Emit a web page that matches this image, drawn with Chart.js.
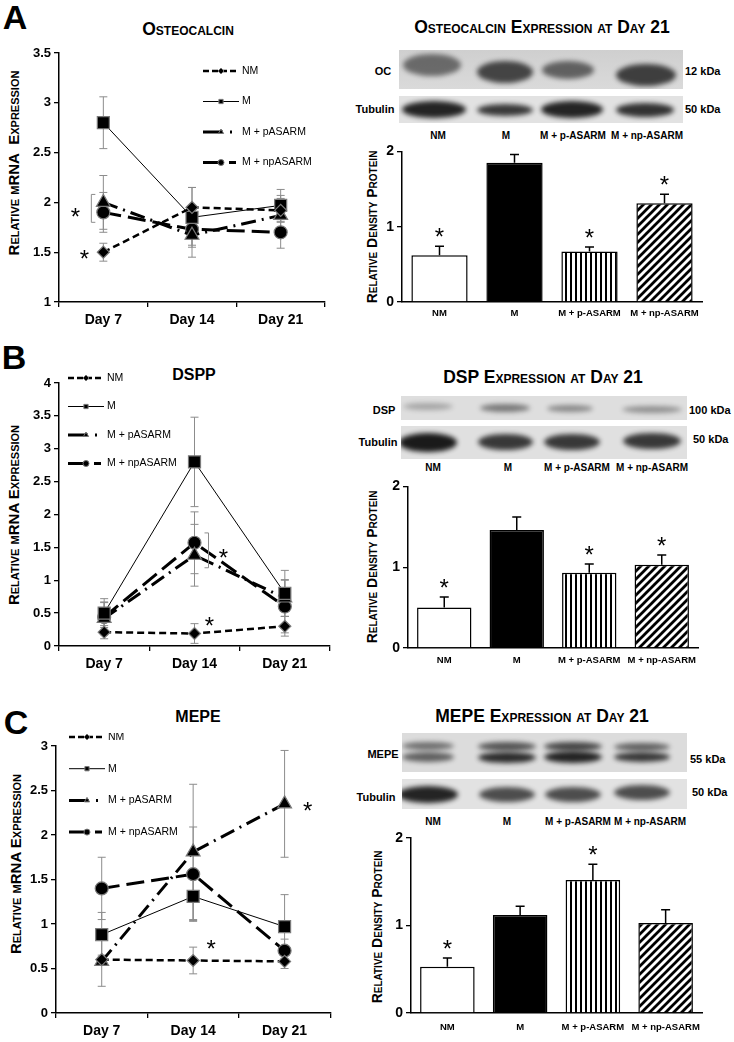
<!DOCTYPE html>
<html>
<head>
<meta charset="utf-8">
<title>Osteocalcin, DSPP and MEPE expression</title>
<script src="https://cdn.jsdelivr.net/npm/chart.js@4.4.1/dist/chart.umd.min.js"></script>
<style>
  html, body { margin: 0; padding: 0; background: #fff; }
  body { position: relative; width: 734px; height: 1042px; overflow: hidden;
         font-family: "Liberation Sans", Arial, sans-serif; color: #000; }
  canvas { position: absolute; }
  .t { position: absolute; white-space: nowrap; font-weight: bold; transform: translate(-50%, -50%); }
  .letter { font-size: 34px; }
  .title { font-size: 17.5px; font-variant: small-caps; }
  .ytitle { font-size: 15px; font-variant: small-caps; transform: translate(-50%, -50%) rotate(-90deg); }
  .ytitle.prot { font-size: 14px; }
  .lab { font-size: 11px; }
  .lane { font-size: 10px; }
  .kda { font-size: 11px; transform: translate(0, -50%); }
  .blot { position: absolute; overflow: hidden; background: #d6d6d6; }
  .band { position: absolute; background: #141414; border-radius: 50%; filter: blur(2.5px); }
</style>
</head>
<body>

<!-- panel letters + titles -->
<div class="t letter" style="left:15px;top:17px">A</div>
<div class="t letter" style="left:14px;top:357px">B</div>
<div class="t letter" style="left:16px;top:722px">C</div>

<div class="t title" style="left:188px;top:29px">Osteocalcin</div>
<div class="t title" style="left:542px;top:27px">Osteocalcin Expression at Day 21</div>
<div class="t title" style="left:194px;top:375px;font-size:16px">DSPP</div>
<div class="t title" style="left:543px;top:377px">DSP Expression at Day 21</div>
<div class="t title" style="left:198px;top:717px;font-size:16px">MEPE</div>
<div class="t title" style="left:542px;top:716px">MEPE Expression at Day 21</div>

<div class="t ytitle" style="left:13px;top:163px">Relative mRNA&nbsp; Expression</div>
<div class="t ytitle" style="left:13px;top:515px">Relative mRNA Expression</div>
<div class="t ytitle" style="left:15px;top:864px">Relative mRNA Expression</div>
<div class="t ytitle prot" style="left:372px;top:227px">Relative Density Protein</div>
<div class="t ytitle prot" style="left:372px;top:567px">Relative Density Protein</div>
<div class="t ytitle prot" style="left:377px;top:927px">Relative Density Protein</div>

<!-- blot labels -->
<div class="t lab" style="left:383px;top:71px">OC</div>
<div class="t lab" style="left:375px;top:109px">Tubulin</div>
<div class="t kda" style="left:685px;top:71px">12 kDa</div>
<div class="t kda" style="left:685px;top:109px">50 kDa</div>
<div class="t lane" style="left:438px;top:135px">NM</div>
<div class="t lane" style="left:506px;top:135px">M</div>
<div class="t lane" style="left:573px;top:135px">M + p-ASARM</div>
<div class="t lane" style="left:647px;top:135px">M + np-ASARM</div>

<div class="t lab" style="left:384px;top:410px">DSP</div>
<div class="t lab" style="left:378px;top:442px">Tubulin</div>
<div class="t kda" style="left:689px;top:410px">100 kDa</div>
<div class="t kda" style="left:693px;top:439px">50 kDa</div>
<div class="t lane" style="left:433px;top:467px">NM</div>
<div class="t lane" style="left:508px;top:467px">M</div>
<div class="t lane" style="left:577px;top:467px">M + p-ASARM</div>
<div class="t lane" style="left:652px;top:467px">M + np-ASARM</div>

<div class="t lab" style="left:383px;top:754px">MEPE</div>
<div class="t lab" style="left:376px;top:797px">Tubulin</div>
<div class="t kda" style="left:690px;top:759px">55 kDa</div>
<div class="t kda" style="left:692px;top:792px">50 kDa</div>
<div class="t lane" style="left:433px;top:821px">NM</div>
<div class="t lane" style="left:507px;top:821px">M</div>
<div class="t lane" style="left:578px;top:821px">M + p-ASARM</div>
<div class="t lane" style="left:650px;top:821px">M + np-ASARM</div>

<canvas id="ocLine"></canvas>
<canvas id="ocBar"></canvas>
<canvas id="dsLine"></canvas>
<canvas id="dsBar"></canvas>
<canvas id="meLine"></canvas>
<canvas id="meBar"></canvas>

<script>
"use strict";

// ── Data ──────────────────────────────────────────────────────────────────
const days   = ["Day 7", "Day 14", "Day 21"];
const series = ["NM", "M", "M + pASARM", "M + npASARM"];
const groups = ["NM", "M", "M + p-ASARM", "M + np-ASARM"];

// A – Osteocalcin mRNA
const ocNM    = [1.50, 1.95, 1.92];
const ocM     = [2.80, 1.85, 1.97];
const ocP     = [2.00, 1.67, 1.87];
const ocNP    = [1.90, 1.73, 1.70];
const ocNMErr = [0.09, 0.20, 0.12];
const ocMErr  = [0.26, 0.30, 0.16];
const ocPErr  = [0.27, 0.22, 0.20];
const ocNPErr = [0.20, 0.16, 0.16];
const ocTicks = [1, 1.5, 2, 2.5, 3, 3.5];

// A – Osteocalcin protein, day 21
const ocProt    = [0.62, 1.85, 0.67, 1.31];
const ocProtErr = [0.12, 0.11, 0.06, 0.12];
const ocProtSig = [true, false, true, true];

// B – DSPP mRNA
const dsNM    = [0.21, 0.19, 0.30];
const dsM     = [0.50, 2.80, 0.80];
const dsP     = [0.42, 1.38, 0.73];
const dsNP    = [0.44, 1.57, 0.60];
const dsNMErr = [0.10, 0.15, 0.15];
const dsMErr  = [0.22, 0.68, 0.35];
const dsPErr  = [0.25, 0.47, 0.28];
const dsNPErr = [0.22, 0.47, 0.40];
const dsTicks = [0, 0.5, 1, 1.5, 2, 2.5, 3, 3.5, 4];

// B – DSP protein, day 21
const dsProt    = [0.50, 1.46, 0.93, 1.03];
const dsProtErr = [0.13, 0.16, 0.11, 0.12];
const dsProtSig = [true, false, true, true];

// C – MEPE mRNA
const meNM    = [0.60, 0.59, 0.58];
const meM     = [0.88, 1.31, 0.97];
const meP     = [0.58, 1.81, 2.35];
const meNP    = [1.40, 1.56, 0.70];
const meNMErr = [0.05, 0.15, 0.08];
const meMErr  = [0.25, 0.27, 0.36];
const mePErr  = [0.28, 0.76, 0.60];
const meNPErr = [0.35, 0.53, 0.13];
const meTicks = [0, 0.5, 1, 1.5, 2, 2.5, 3];

// C – MEPE protein, day 21
const meProt    = [0.53, 1.12, 1.52, 1.03];
const meProtErr = [0.10, 0.10, 0.18, 0.15];
const meProtSig = [true, false, true, false];

const protTicks = [0, 1, 2];

// ── Look ──────────────────────────────────────────────────────────────────
const FONT = '"Liberation Sans", Arial, sans-serif';
Chart.defaults.font.family = FONT;
Chart.defaults.color = "#000";

const lineStyles = [
  { borderWidth: 2.5, borderDash: [7, 4],         keyDash: [6, 3],         pointStyle: "rectRot",  pointRadius: 6 },
  { borderWidth: 1,   borderDash: [],             keyDash: [],             pointStyle: "rect",     pointRadius: 8.5 },
  { borderWidth: 3,   borderDash: [15, 6, 2, 6],  keyDash: [20, 7, 2, 7],  pointStyle: "triangle", pointRadius: 8 },
  { borderWidth: 3,   borderDash: [18, 7],        keyDash: [20, 6, 7, 3],  pointStyle: "circle",   pointRadius: 6.5 },
];

function tile(w, h, paint) {
  const c = document.createElement("canvas");
  c.width = w; c.height = h;
  const g = c.getContext("2d");
  g.fillStyle = "#fff"; g.fillRect(0, 0, w, h);
  paint(g);
  return g.createPattern(c, "repeat");
}
const vStripes = tile(5, 5, g => { g.fillStyle = "#000"; g.fillRect(0, 0, 2, 5); });
const dStripes = tile(8, 8, g => {
  g.strokeStyle = "#000"; g.lineWidth = 2.8;
  g.beginPath();
  g.moveTo(-1, 9); g.lineTo(9, -1);
  g.moveTo(-5, 5); g.lineTo(5, -5);
  g.moveTo(3, 13); g.lineTo(13, 3);
  g.stroke();
});
const barFills = ["#fff", "#000", vStripes, dStripes];

function drawMarker(ctx, style, x, y, r) {
  ctx.beginPath();
  if (style === "circle") ctx.arc(x, y, r, 0, Math.PI * 2);
  else if (style === "rect") ctx.rect(x - r * 0.707, y - r * 0.707, r * 1.414, r * 1.414);
  else if (style === "rectRot") { ctx.moveTo(x - r, y); ctx.lineTo(x, y - r); ctx.lineTo(x + r, y); ctx.lineTo(x, y + r); ctx.closePath(); }
  else { ctx.moveTo(x, y - r); ctx.lineTo(x + r * 0.866, y + r / 2); ctx.lineTo(x - r * 0.866, y + r / 2); ctx.closePath(); }
  ctx.fillStyle = "#000"; ctx.fill();
  ctx.strokeStyle = "#777"; ctx.lineWidth = 1; ctx.stroke();
}

// ── Plugins ───────────────────────────────────────────────────────────────
function drawErrors(chart, opts) {
  const ctx = chart.ctx, ys = chart.scales.y;
  ctx.save();
  ctx.strokeStyle = opts.color; ctx.lineWidth = opts.width;
  chart.data.datasets.forEach((ds, d) => {
    if (!ds.errors) return;
    chart.getDatasetMeta(d).data.forEach((el, i) => {
      const v = ds.data[i], e = ds.errors[i];
      const top = ys.getPixelForValue(v + e);
      const bot = opts.upOnly ? el.y : ys.getPixelForValue(v - e);
      ctx.beginPath();
      ctx.moveTo(el.x, top); ctx.lineTo(el.x, bot);
      ctx.moveTo(el.x - opts.cap, top); ctx.lineTo(el.x + opts.cap, top);
      if (!opts.upOnly) { ctx.moveTo(el.x - opts.cap, bot); ctx.lineTo(el.x + opts.cap, bot); }
      ctx.stroke();
    });
  });
  ctx.restore();
}
const errorBars = {
  id: "errorBars",
  beforeDatasetsDraw(chart, args, opts) { if (opts.under) drawErrors(chart, opts); },
  afterDatasetsDraw(chart, args, opts) { if (!opts.under) drawErrors(chart, opts); },
};

const lineKey = {
  id: "lineKey",
  afterDraw(chart, args, opts) {
    if (opts.x === undefined) return;
    const ctx = chart.ctx, len = 36;
    ctx.save();
    chart.data.datasets.forEach((ds, i) => {
      const x = opts.x, y = opts.y + i * opts.step;
      ctx.strokeStyle = "#000"; ctx.lineWidth = ds.borderWidth;
      ctx.setLineDash(ds.keyDash);
      ctx.beginPath(); ctx.moveTo(x, y); ctx.lineTo(x + len, y); ctx.stroke();
      ctx.setLineDash([]);
      drawMarker(ctx, ds.pointStyle, x + 18, y, 3);
      ctx.fillStyle = "#000";
      ctx.font = "10.5px " + FONT;
      ctx.textBaseline = "middle";
      ctx.fillText(ds.label, x + len + 3, y);
    });
    ctx.restore();
  },
};

// asterisks and brackets
const marks = {
  id: "marks",
  afterDatasetsDraw(chart, args, opts) {
    const ctx = chart.ctx, xs = chart.scales.x, ys = chart.scales.y;
    ctx.save();
    ctx.fillStyle = "#000";
    ctx.font = "24px " + FONT;
    ctx.textAlign = "center"; ctx.textBaseline = "alphabetic";
    const star = (x, y) => ctx.fillText("*", x, y + 14);
    chart.data.datasets.forEach((ds, d) => {
      if (!ds.sig) return;
      chart.getDatasetMeta(d).data.forEach((el, i) => {
        if (ds.sig[i]) star(el.x, ys.getPixelForValue(ds.data[i] + ds.errors[i]) - 15);
      });
    });
    (opts.stars || []).forEach(s => star(xs.getPixelForValue(s.i) + s.dx, ys.getPixelForValue(s.v)));
    ctx.strokeStyle = "#8c8c8c"; ctx.lineWidth = 1;
    (opts.brackets || []).forEach(b => {
      const x = xs.getPixelForValue(b.i) + b.dx;
      const y1 = ys.getPixelForValue(b.v1), y2 = ys.getPixelForValue(b.v2);
      ctx.beginPath();
      ctx.moveTo(x + b.dir * 4, y1); ctx.lineTo(x, y1); ctx.lineTo(x, y2); ctx.lineTo(x + b.dir * 4, y2);
      ctx.stroke();
    });
    ctx.restore();
  },
};

// ── Chart builders ────────────────────────────────────────────────────────
function place(cv, box) {
  cv.width = box.w; cv.height = box.h;
  cv.style.left = box.x + "px"; cv.style.top = box.y + "px";
}

function axisY(ticks, box, area, size) {
  return {
    min: ticks[0], max: ticks[ticks.length - 1],
    afterBuildTicks: s => { s.ticks = ticks.map(v => ({ value: v })); },
    grid: { drawOnChartArea: false, tickLength: 5, color: "#000", lineWidth: 1.3 },
    border: { color: "#000", width: 1.5 },
    ticks: { font: { size: size, weight: "bold" }, padding: 3, color: "#000", callback: v => String(+v.toFixed(2)) },
    afterFit: s => { s.width = area.l - box.x; },
  };
}

function lineChart(id, box, area, sets, errs, ticks, key, notes) {
  const cv = document.getElementById(id);
  place(cv, box);
  new Chart(cv, {
    type: "line",
    data: {
      labels: days,
      datasets: series.map((name, i) => Object.assign({
        label: name, data: sets[i], errors: errs[i],
        borderColor: "#000", pointBackgroundColor: "#000",
        pointBorderColor: "#7a7a7a", pointBorderWidth: 1.2,
        fill: false, tension: 0, clip: false,
      }, lineStyles[i])),
    },
    options: {
      responsive: false, animation: false, events: [],
      layout: { padding: { top: area.t - box.y, right: box.x + box.w - area.r, left: 0, bottom: 0 } },
      plugins: {
        legend: { display: false }, tooltip: { enabled: false },
        errorBars: { under: true, color: "#8c8c8c", width: 1, cap: 4 },
        lineKey: { x: key.x - box.x, y: key.y - box.y, step: key.step },
        marks: notes,
      },
      scales: {
        x: {
          offset: true,
          grid: { offset: true, drawOnChartArea: false, tickLength: 5, color: "#000", lineWidth: 1.3 },
          border: { color: "#000", width: 1.5 },
          ticks: { font: { size: 14, weight: "bold" }, padding: 5, color: "#000" },
          afterFit: s => { s.height = box.y + box.h - area.b; },
        },
        y: axisY(ticks, box, area, 13),
      },
    },
    plugins: [errorBars, lineKey, marks],
  });
}

function barChart(id, box, area, values, errs, sig, labelPad) {
  const cv = document.getElementById(id);
  place(cv, box);
  new Chart(cv, {
    type: "bar",
    data: {
      labels: groups,
      datasets: [{
        data: values, errors: errs, sig: sig,
        backgroundColor: barFills, borderColor: "#000", borderWidth: 1.5,
        barPercentage: 0.75, categoryPercentage: 1,
      }],
    },
    options: {
      responsive: false, animation: false, events: [],
      layout: { padding: { top: area.t - box.y, right: box.x + box.w - area.r, left: 0, bottom: 0 } },
      plugins: {
        legend: { display: false }, tooltip: { enabled: false },
        errorBars: { under: false, upOnly: true, color: "#000", width: 1.5, cap: 4.5 },
        marks: {},
      },
      scales: {
        x: {
          grid: { drawOnChartArea: false, drawTicks: false },
          border: { color: "#000", width: 1.5 },
          ticks: { font: { size: 9.5, weight: "bold" }, padding: labelPad, color: "#000", maxRotation: 0, autoSkip: false },
          afterFit: s => { s.height = box.y + box.h - area.b; },
        },
        y: axisY(protTicks, box, area, 14),
      },
    },
    plugins: [errorBars, marks],
  });
}

// ── Western blot strips (picture, not data) ──────────────────────────────
function blot(rect, bg, bands) {
  const el = document.createElement("div");
  el.className = "blot";
  Object.assign(el.style, { left: rect[0] + "px", top: rect[1] + "px", width: rect[2] + "px", height: rect[3] + "px", background: bg });
  bands.forEach(b => {
    const d = document.createElement("div");
    d.className = "band";
    Object.assign(d.style, {
      left: (b[0] - b[1] / 2 - rect[0]) + "px", width: b[1] + "px",
      top: (b[2] - b[3] / 2) + "px", height: b[3] + "px", opacity: b[4],
    });
    el.appendChild(d);
  });
  document.body.appendChild(el);
}

blot([399, 50, 284, 39], "linear-gradient(#cfcfcf,#dadada)", [
  [432, 58, 15, 22, 0.55], [505, 56, 22, 22, 0.75], [568, 52, 20, 18, 0.6], [646, 60, 25, 22, 0.78]]);
blot([399, 96, 284, 27], "#e2e2e2", [
  [434, 64, 13, 17, 0.92], [505, 56, 14, 12, 0.82], [572, 62, 13, 17, 0.92], [645, 58, 14, 14, 0.85]]);
blot([401, 396, 286, 24], "#dedede", [
  [428, 50, 10, 7, 0.28], [505, 50, 12, 8, 0.5], [570, 46, 12, 7, 0.42], [652, 60, 13, 7, 0.38]]);
blot([401, 426, 286, 33], "#e0e0e0", [
  [428, 58, 16, 19, 0.97], [505, 55, 16, 16, 0.82], [572, 56, 16, 16, 0.82], [652, 58, 15, 16, 0.82]]);
blot([402, 733, 285, 39], "#dcdcdc", [
  [428, 52, 13, 8, 0.55], [428, 52, 24, 10, 0.62], [507, 58, 13, 9, 0.68], [507, 58, 24, 11, 0.88],
  [573, 58, 13, 9, 0.75], [573, 58, 24, 12, 0.92], [642, 56, 14, 8, 0.62], [642, 56, 24, 10, 0.82]]);
blot([402, 779, 285, 30], "#e2e2e2", [
  [428, 60, 15, 17, 0.92], [507, 56, 15, 15, 0.72], [573, 56, 15, 15, 0.72], [642, 56, 13, 15, 0.72]]);

// ── Build ─────────────────────────────────────────────────────────────────
lineChart("ocLine",
  { x: 0, y: 40, w: 340, h: 300 }, { l: 59, t: 53, r: 325, b: 302 },
  [ocNM, ocM, ocP, ocNP], [ocNMErr, ocMErr, ocPErr, ocNPErr], ocTicks,
  { x: 203, y: 71, step: 30.5 },
  { stars: [{ i: 0, v: 1.91, dx: -28 }, { i: 0, v: 1.49, dx: -19 }],
    brackets: [{ i: 0, v1: 2.08, v2: 1.80, dx: -12, dir: 1 }] });

lineChart("dsLine",
  { x: 0, y: 370, w: 340, h: 305 }, { l: 59, t: 383, r: 330, b: 646 },
  [dsNM, dsM, dsP, dsNP], [dsNMErr, dsMErr, dsPErr, dsNPErr], dsTicks,
  { x: 68, y: 378, step: 28.5 },
  { stars: [{ i: 1, v: 1.43, dx: 29 }, { i: 1, v: 0.40, dx: 15 }],
    brackets: [{ i: 1, v1: 1.72, v2: 1.19, dx: 14, dir: -1 }] });

lineChart("meLine",
  { x: 0, y: 733, w: 340, h: 309 }, { l: 56, t: 746, r: 333, b: 1013 },
  [meNM, meM, meP, meNP], [meNMErr, meMErr, mePErr, meNPErr], meTicks,
  { x: 69, y: 737, step: 31.7 },
  { stars: [{ i: 2, v: 2.34, dx: 23 }, { i: 1, v: 0.79, dx: 18 }], brackets: [] });

barChart("ocBar", { x: 340, y: 140, w: 394, h: 200 }, { l: 402, t: 151, r: 702, b: 302 },
  ocProt, ocProtErr, ocProtSig, 6);
barChart("dsBar", { x: 340, y: 475, w: 394, h: 200 }, { l: 408, t: 486, r: 698, b: 648 },
  dsProt, dsProtErr, dsProtSig, 7);
barChart("meBar", { x: 340, y: 826, w: 394, h: 216 }, { l: 411, t: 838, r: 702, b: 1013 },
  meProt, meProtErr, meProtSig, 9);
</script>
</body>
</html>
